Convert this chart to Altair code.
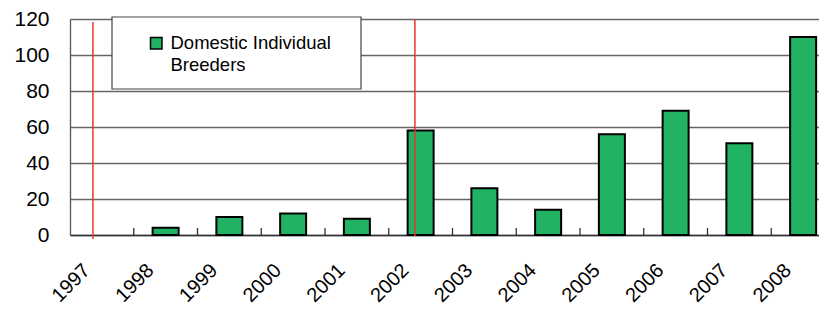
import altair as alt
import pandas as pd

# ---- data ----
years = ["1997", "1998", "1999", "2000", "2001", "2002",
         "2003", "2004", "2005", "2006", "2007", "2008"]
bar_years = ["1998", "1999", "2000", "2001", "2002",
             "2003", "2004", "2005", "2006", "2007", "2008"]
bar_values = [4, 10, 12, 9, 58, 26, 14, 56, 69, 51, 110]
series_name = "Domestic Individual Breeders"
y_ticks = [0, 20, 40, 60, 80, 100, 120]
marker_year_a = ["1997"]
marker_year_b = ["2002"]

W, H, RANGE = 749, 216, 765
FONT = "Liberation Sans"
GREEN = "#22B263"
RED = "#E8352B"

df = pd.DataFrame({"year": bar_years, "value": bar_values, "series": series_name})

x_scale = alt.Scale(domain=years, range=[0, RANGE], paddingInner=0, paddingOuter=0)

bars = alt.Chart(df).mark_bar(size=26, stroke="black", strokeWidth=2).encode(
    x=alt.X("year:O", scale=x_scale, sort=years,
            axis=alt.Axis(title=None, labelAngle=-45, labelAlign="right",
                          labelBaseline="middle", labelPadding=32, labelOffset=-15,
                          labelFontSize=20, labelFont=FONT, labelColor="black",
                          ticks=False, domainColor="#333", domainWidth=1.5)),
    y=alt.Y("value:Q", scale=alt.Scale(domain=[0, 120], nice=False),
            axis=alt.Axis(title=None, values=y_ticks, ticks=False,
                          labelFontSize=21, labelFont=FONT, labelColor="black",
                          labelPadding=21, gridColor="#666", gridWidth=1.3,
                          domainColor="#555", domainWidth=1.3)),
    color=alt.Color("series:N", scale=alt.Scale(range=[GREEN]),
                    legend=alt.Legend(title=None, orient="none", legendX=77, legendY=15,
                                      padding=0, symbolType="square", symbolSize=132,
                                      symbolStrokeColor="black", symbolStrokeWidth=1.5,
                                      labelFontSize=18.5, labelFont=FONT, labelColor="black",
                                      labelLimit=400, labelOffset=5,
                                      labelExpr="['Domestic Individual', 'Breeders']")),
)

red_a = alt.Chart(pd.DataFrame({"year": marker_year_a})).mark_rule(
    color=RED, strokeWidth=1.5).encode(
    x=alt.X("year:O", bandPosition=0.36), y=alt.value(3), y2=alt.value(H + 4))

red_b = alt.Chart(pd.DataFrame({"year": marker_year_b})).mark_rule(
    color=RED, strokeWidth=1.5).encode(
    x=alt.X("year:O", bandPosition=0.41), y=alt.value(0), y2=alt.value(H + 1))

ticks = alt.Chart(pd.DataFrame({"year": bar_years})).mark_rule(
    color="#333", strokeWidth=1.3).encode(
    x=alt.X("year:O", bandPosition=0), y=alt.value(H - 7), y2=alt.value(H))

box = alt.Chart(alt.Data(values=[{}])).mark_rect(
    fill="white", stroke="#444", strokeWidth=1.2).encode(
    x=alt.value(42), x2=alt.value(291), y=alt.value(-2), y2=alt.value(70))

chart = alt.layer(box, bars, ticks, red_a, red_b).properties(
    width=W, height=H,
    autosize=alt.AutoSizeParams(type="none"),
    padding={"left": 62, "top": 11, "right": 0, "bottom": 74},
).configure(
    view={"strokeWidth": 0},
    style={"guide-label": {"lineHeight": 22}},
)

chart.save("out.html", embed_options={"renderer": "svg", "actions": False})
